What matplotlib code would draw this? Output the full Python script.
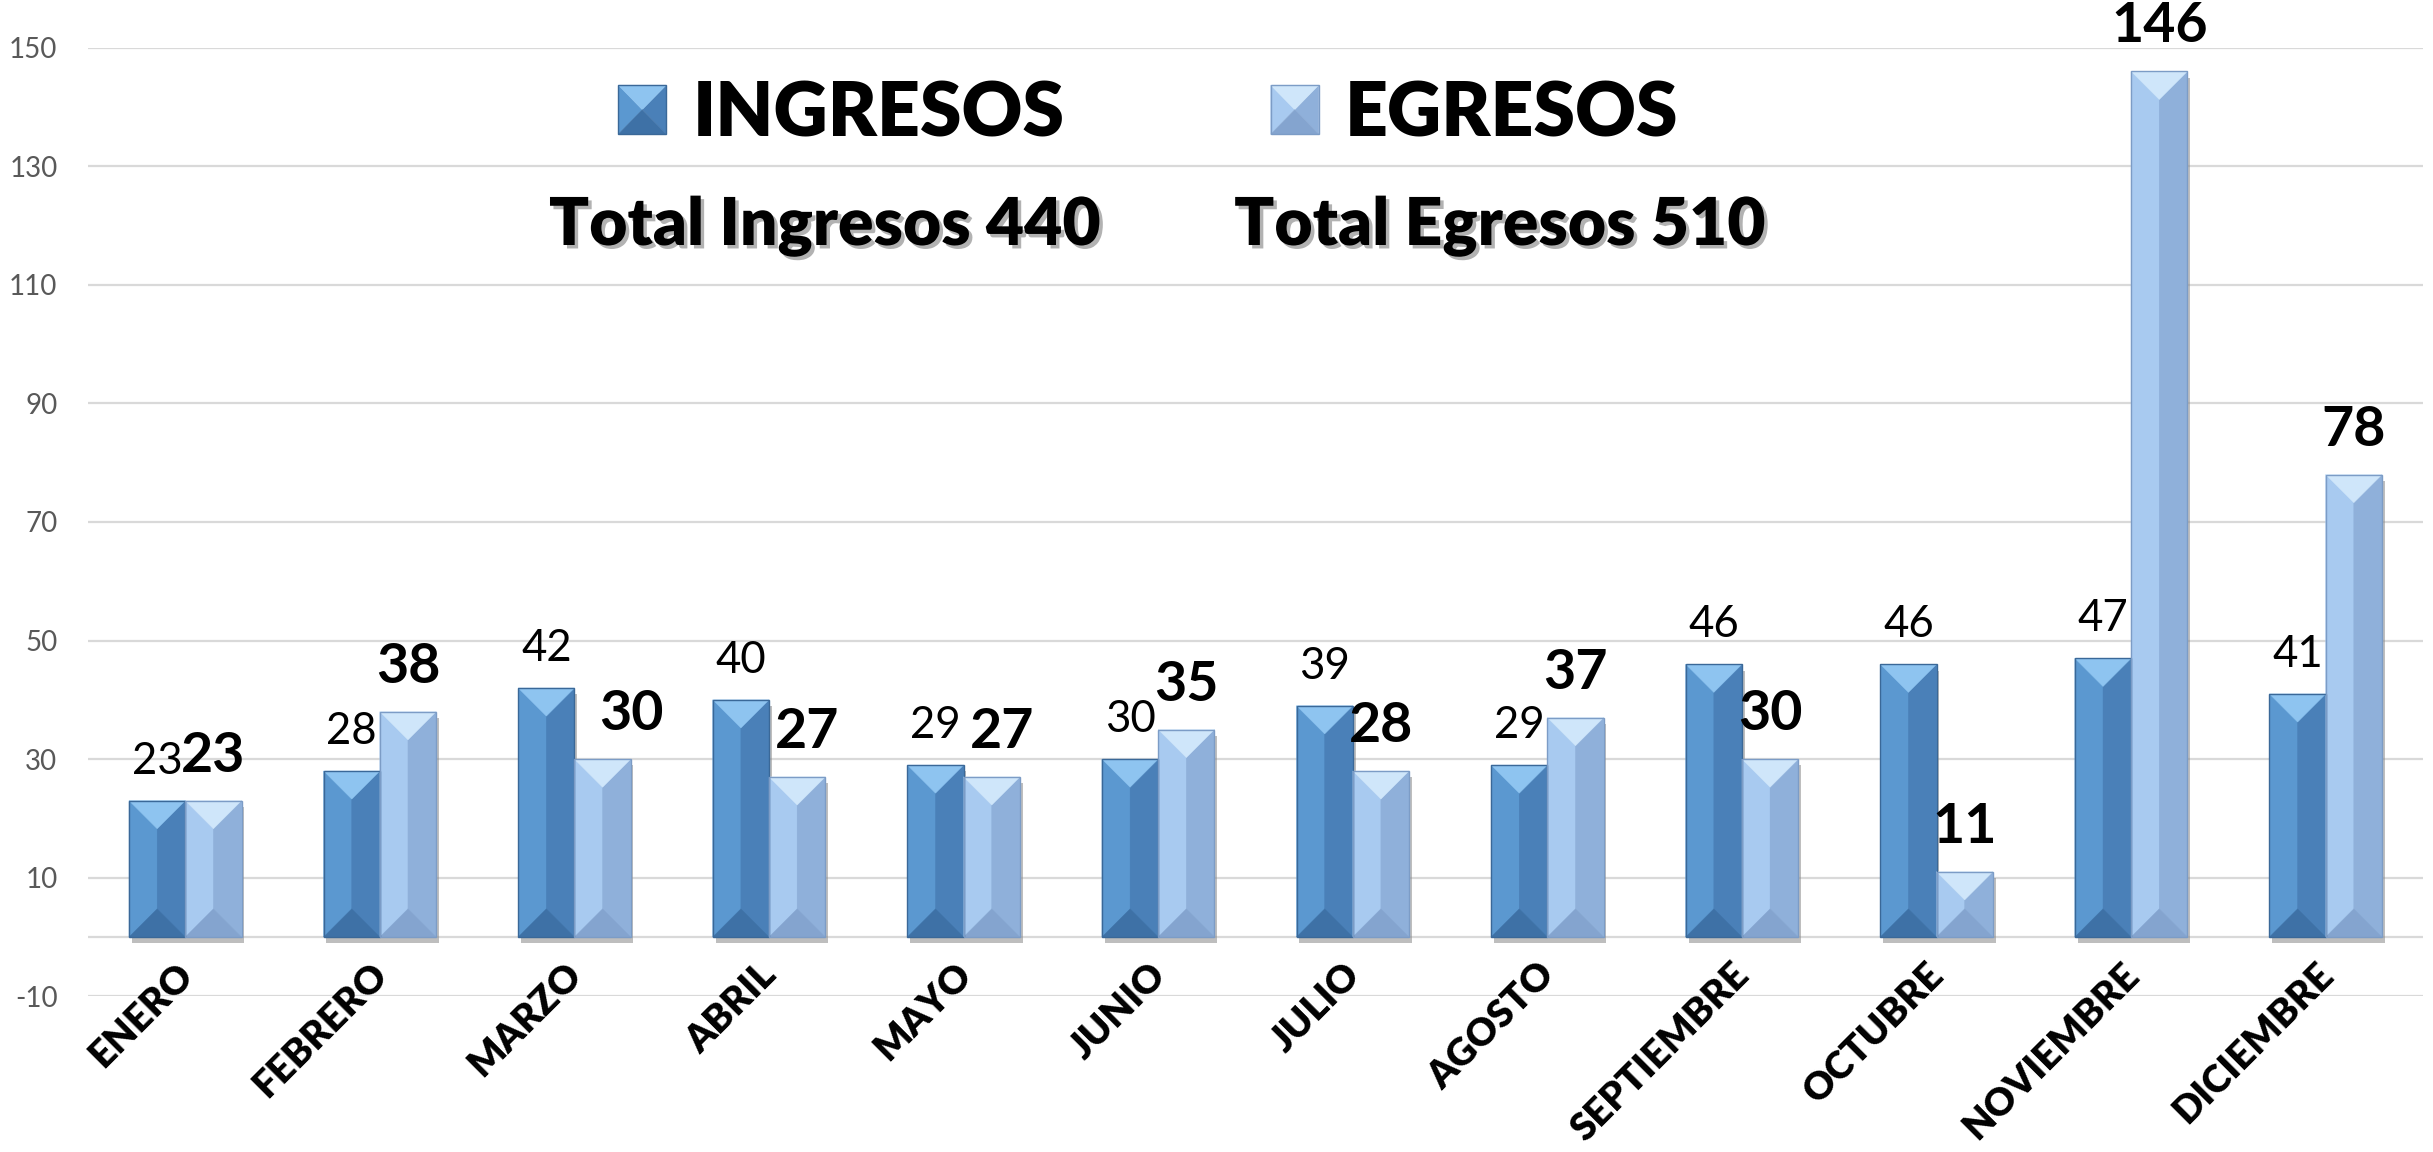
import numpy as np
import matplotlib
matplotlib.use("Agg")
import matplotlib.pyplot as plt
from matplotlib.patches import Polygon, Rectangle
from matplotlib.legend_handler import HandlerBase
import matplotlib.patheffects as pe
from matplotlib.transforms import offset_copy

# ---------------- data ----------------
meses = ["ENERO", "FEBRERO", "MARZO", "ABRIL", "MAYO", "JUNIO", "JULIO",
         "AGOSTO", "SEPTIEMBRE", "OCTUBRE", "NOVIEMBRE", "DICIEMBRE"]
ingresos = [23, 28, 42, 40, 29, 30, 39, 29, 46, 46, 47, 41]
egresos = [23, 38, 30, 27, 27, 35, 28, 37, 30, 11, 146, 78]
series_names = ["INGRESOS", "EGRESOS"]
yticks = list(range(-10, 151, 20))

# ---------------- style ----------------
FAM = ["Lato", "DejaVu Sans"]
plt.rcParams["font.family"] = FAM
plt.rcParams["axes.unicode_minus"] = False
PX = 100 / 72.0  # pixels per point at dpi 100

COL_ING = dict(base="#5A97CF", top="#8EC4F0", left="#5B98D0", right="#4A80B8",
               bottom="#3E71A6", edge="#3A6898")
COL_EGR = dict(base="#A6C8EE", top="#CFE6FA", left="#A8CAF0", right="#8FB0DA",
               bottom="#84A4CF", edge="#7C9CC6")

fig = plt.figure(figsize=(24.33, 11.52), dpi=100)
ax = fig.add_axes([88 / 2433, 1 - 996.3 / 1152, (2423 - 88) / 2433, (996.3 - 47.7) / 1152])
ax.set_xlim(-0.5, len(meses) - 0.5)
ax.set_ylim(-10, 150)
ax.set_yticks(yticks)
ax.set_xticks([])
for s in ax.spines.values():
    s.set_visible(False)
ax.yaxis.grid(True, color="#d9d9d9", lw=1.6)
ax.set_axisbelow(True)
ax.axhline(0, color="#d9d9d9", lw=1.6, zorder=0.6)
ax.tick_params(axis="y", length=0, labelsize=20, labelcolor="#595959", pad=22)

x = np.arange(len(meses))
w = 0.289

shadow = [pe.SimplePatchShadow(offset=(2.0, -4.5), shadow_rgbFace="#8a8a8a", alpha=0.55), pe.Normal()]
bars_i = ax.bar(x - w / 2, ingresos, w, color=COL_ING["base"], linewidth=0, zorder=2,
                label=series_names[0])
bars_e = ax.bar(x + w / 2, egresos, w, color=COL_EGR["base"], linewidth=0, zorder=2,
                label=series_names[1])
for b in list(bars_i) + list(bars_e):
    b.set_path_effects(shadow)


def bevel(rect, cols):
    x0 = rect.get_x(); bw = rect.get_width(); x1 = x0 + bw; xc = x0 + bw / 2
    y0 = rect.get_y(); h = rect.get_height(); y1 = y0 + h
    p0 = ax.transData.transform((0, 0))
    p1 = ax.transData.transform((1, 1))
    ppx, ppy = p1 - p0
    d = min((bw / 2) * ppx / ppy, h / 2)
    polys = [
        ([(x0, y0), (x0, y1), (xc, y1 - d), (xc, y0 + d)], cols["left"]),
        ([(x1, y0), (x1, y1), (xc, y1 - d), (xc, y0 + d)], cols["right"]),
        ([(x0, y1), (x1, y1), (xc, y1 - d)], cols["top"]),
        ([(x0, y0), (x1, y0), (xc, y0 + d)], cols["bottom"]),
    ]
    for pts, c in polys:
        ax.add_patch(Polygon(pts, closed=True, facecolor=c, edgecolor=c, lw=0.3, zorder=2.1))
    ax.add_patch(Rectangle((x0, y0), bw, h, fill=False, edgecolor=cols["edge"], lw=1.0, zorder=2.2))


for b in bars_i:
    bevel(b, COL_ING)
for b in bars_e:
    bevel(b, COL_EGR)

# ---------------- data labels ----------------
egr_dx_px = {2: 29, 3: 10, 4: 10}
for i, v in enumerate(ingresos):
    ax.annotate(str(v), (x[i] - w / 2, v), xytext=(0, 27 / PX), textcoords="offset points",
                ha="center", va="baseline", fontsize=31.5, color="black", zorder=5,
                annotation_clip=False)
for i, v in enumerate(egresos):
    ax.annotate(str(v), (x[i] + w / 2, v), xytext=(egr_dx_px.get(i, 0) / PX, 29 / PX),
                textcoords="offset points", ha="center", va="baseline", fontsize=40,
                fontweight="bold", color="black", zorder=5, annotation_clip=False)

# ---------------- month labels ----------------
tr = offset_copy(ax.transData, fig=fig, x=-10 / PX, y=-20 / PX, units="points")
for i, m in enumerate(meses):
    ax.text(x[i], 0, m, transform=tr, rotation=45, rotation_mode="anchor",
            ha="right", va="top", fontsize=27.5, fontweight="heavy", color="black",
            clip_on=False)


# ---------------- legend ----------------
class BevelHandler(HandlerBase):
    def __init__(self, cols):
        super().__init__()
        self.cols = cols

    def create_artists(self, legend, orig_handle, xdescent, ydescent, width, height,
                       fontsize, trans):
        x0 = -xdescent; y0 = -ydescent; x1 = x0 + width; y1 = y0 + height
        xc = (x0 + x1) / 2; yc = (y0 + y1) / 2
        c = self.cols
        arts = []
        for pts, col in [
            ([(x0, y0), (x0, y1), (xc, yc)], c["left"]),
            ([(x1, y0), (x1, y1), (xc, yc)], c["right"]),
            ([(x0, y1), (x1, y1), (xc, yc)], c["top"]),
            ([(x0, y0), (x1, y0), (xc, yc)], c["bottom"]),
        ]:
            p = Polygon(pts, closed=True, facecolor=col, edgecolor=col, lw=0.3, transform=trans)
            arts.append(p)
        r = Rectangle((x0, y0), width, height, fill=False, edgecolor=c["edge"], lw=1.0,
                      transform=trans)
        arts.append(r)
        return arts


h_i = bars_i.patches[0]
h_e = bars_e.patches[0]
leg = fig.legend([h_i, h_e], series_names, loc="center", bbox_to_anchor=(0.472, 0.901),
                 ncol=2, frameon=False,
                 prop=dict(family=FAM, weight="heavy", size=54),
                 handler_map={h_i: BevelHandler(COL_ING), h_e: BevelHandler(COL_EGR)},
                 handlelength=0.64, handleheight=0.63, handletextpad=0.35,
                 columnspacing=2.75, borderpad=0)

# ---------------- totals ----------------
tshadow = [pe.SimplePatchShadow(offset=(2.5, -2.5), shadow_rgbFace="#555555", alpha=0.45), pe.Normal()]
fig.text(825 / 2433, 1 - 245 / 1152, f"Total {series_names[0].capitalize()} {sum(ingresos)}",
         ha="center", va="baseline", fontsize=47.5, fontweight="heavy", color="black",
         path_effects=tshadow)
fig.text(1500 / 2433, 1 - 245 / 1152, f"Total {series_names[1].capitalize()} {sum(egresos)}",
         ha="center", va="baseline", fontsize=47.5, fontweight="heavy", color="black",
         path_effects=tshadow)

fig.savefig("out.png", dpi=100, facecolor="white")
